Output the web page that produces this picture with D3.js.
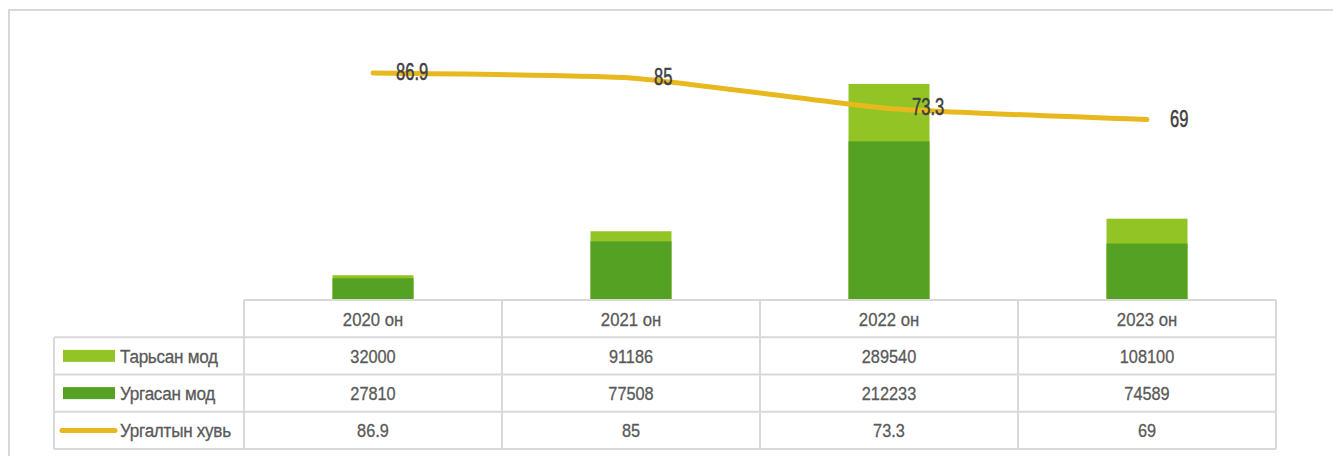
<!DOCTYPE html>
<html>
<head>
<meta charset="utf-8">
<script src="https://cdn.jsdelivr.net/npm/d3@7"></script>
<style>
  body { margin: 0; background: #fff; }
  svg { display: block; }
</style>
</head>
<body>
<div id="chart"></div>
<script>
// Дата
const categories = ['2020 он', '2021 он', '2022 он', '2023 он'];
const planted = [32000, 91186, 289540, 108100];   // Тарьсан мод
const grown = [27810, 77508, 212233, 74589];      // Ургасан мод
const rate = [86.9, 85, 73.3, 69];                // Ургалтын хувь
const seriesNames = ['Тарьсан мод', 'Ургасан мод', 'Ургалтын хувь'];
const rateLabels = ['86.9', '85', '73.3', '69'];

const width = 1333, height = 456;
const colors = { planted: '#93c425', grown: '#55a123', rate: '#e8b81f' };
const font = '"Liberation Sans", Arial, sans-serif';

const svg = d3.select('#chart').append('svg')
    .attr('width', width)
    .attr('height', height);

// хүрээ
svg.append('rect')
    .attr('x', 9).attr('y', 10)
    .attr('width', 1340).attr('height', 470)
    .attr('fill', 'none')
    .attr('stroke', '#d9d9d9')
    .attr('stroke-width', 2);

const plotTop = 39, plotBottom = 299;
const tableLeft = 54, tableRight = 1276, colLeft = 244;

const x = d3.scaleBand()
    .domain(categories)
    .range([colLeft, tableRight])
    .padding(0);

const y = d3.scaleLinear().domain([0, 350000]).range([plotBottom, plotTop]);
const y2 = d3.scaleLinear().domain([0, 100]).range([plotBottom, plotTop]);

const barW = 81;
const cx = i => x(categories[i]) + x.bandwidth() / 2;

// баганууд
svg.append('g').selectAll('rect')
    .data(planted)
    .join('rect')
    .attr('x', (d, i) => cx(i) - barW / 2)
    .attr('y', d => y(d))
    .attr('width', barW)
    .attr('height', d => y(0) - y(d))
    .attr('fill', colors.planted);

svg.append('g').selectAll('rect')
    .data(grown)
    .join('rect')
    .attr('x', (d, i) => cx(i) - barW / 2)
    .attr('y', d => y(d))
    .attr('width', barW)
    .attr('height', d => y(0) - y(d))
    .attr('fill', colors.grown);

// шугам
const line = d3.line()
    .x((d, i) => cx(i))
    .y(d => y2(d))
    .curve(d3.curveCardinal.tension(0.55));

svg.append('path')
    .datum(rate)
    .attr('d', line)
    .attr('fill', 'none')
    .attr('stroke', colors.rate)
    .attr('stroke-width', 5)
    .attr('stroke-linecap', 'round');

svg.append('g').selectAll('text')
    .data(rate)
    .join('text')
    .attr('transform', (d, i) => `translate(${cx(i) + 23},${y2(d) + 1}) scale(0.72,1)`)
    .attr('dominant-baseline', 'middle')
    .attr('font-family', font)
    .attr('font-size', 23)
    .attr('fill', '#404040')
    .attr('stroke', '#404040')
    .attr('stroke-width', 0.5)
    .text((d, i) => rateLabels[i]);

// хүснэгт
const rowTop = 300, rowH = 37.25;
const grid = svg.append('g')
    .attr('stroke', '#d9d9d9')
    .attr('stroke-width', 2)
    .attr('fill', 'none');

grid.append('line').attr('x1', colLeft).attr('x2', tableRight).attr('y1', rowTop).attr('y2', rowTop);
for (let r = 1; r <= 4; r++) {
    grid.append('line')
        .attr('x1', tableLeft).attr('x2', tableRight)
        .attr('y1', rowTop + r * rowH).attr('y2', rowTop + r * rowH);
}
grid.append('line').attr('x1', tableLeft).attr('x2', tableLeft)
    .attr('y1', rowTop + rowH).attr('y2', rowTop + 4 * rowH);
[colLeft].concat(categories.map(c => x(c) + x.bandwidth())).forEach(lx => {
    grid.append('line').attr('x1', lx).attr('x2', lx)
        .attr('y1', rowTop).attr('y2', rowTop + 4 * rowH);
});

const textG = svg.append('g')
    .attr('font-family', font)
    .attr('font-size', 19)
    .attr('fill', '#595959')
    .attr('stroke', '#595959')
    .attr('stroke-width', 0.3)
    .attr('text-anchor', 'middle')
    .attr('dominant-baseline', 'middle');

textG.selectAll('.hdr')
    .data(categories)
    .join('text')
    .attr('class', 'hdr')
    .attr('transform', (d, i) => `translate(${cx(i)},${rowTop + rowH / 2 + 2}) scale(0.88,1)`)
    .text(d => d);

const rows = [planted, grown, rate];
rows.forEach((vals, r) => {
    textG.selectAll('.r' + r)
        .data(vals)
        .join('text')
        .attr('class', 'r' + r)
        .attr('transform', (d, i) => `translate(${cx(i)},${rowTop + (r + 1) * rowH + rowH / 2 + 2}) scale(0.86,1)`)
        .text((d, i) => r === 2 ? rateLabels[i] : d);
});

// тайлбар
const legend = svg.append('g');
seriesNames.forEach((name, r) => {
    const cy = rowTop + (r + 1) * rowH + rowH / 2;
    if (r < 2) {
        legend.append('rect')
            .attr('x', 63).attr('y', cy - 6)
            .attr('width', 52).attr('height', 12)
            .attr('fill', r === 0 ? colors.planted : colors.grown);
    } else {
        legend.append('line')
            .attr('x1', 62).attr('x2', 115)
            .attr('y1', cy).attr('y2', cy)
            .attr('stroke', colors.rate)
            .attr('stroke-width', 5)
            .attr('stroke-linecap', 'round');
    }
    legend.append('text')
        .attr('transform', `translate(120,${cy + 2}) scale(0.9,1)`)
        .attr('dominant-baseline', 'middle')
        .attr('font-family', font)
        .attr('font-size', 19)
        .attr('letter-spacing', -0.3)
        .attr('fill', '#595959')
        .attr('stroke', '#595959')
        .attr('stroke-width', 0.3)
        .text(name);
});
</script>
</body>
</html>
